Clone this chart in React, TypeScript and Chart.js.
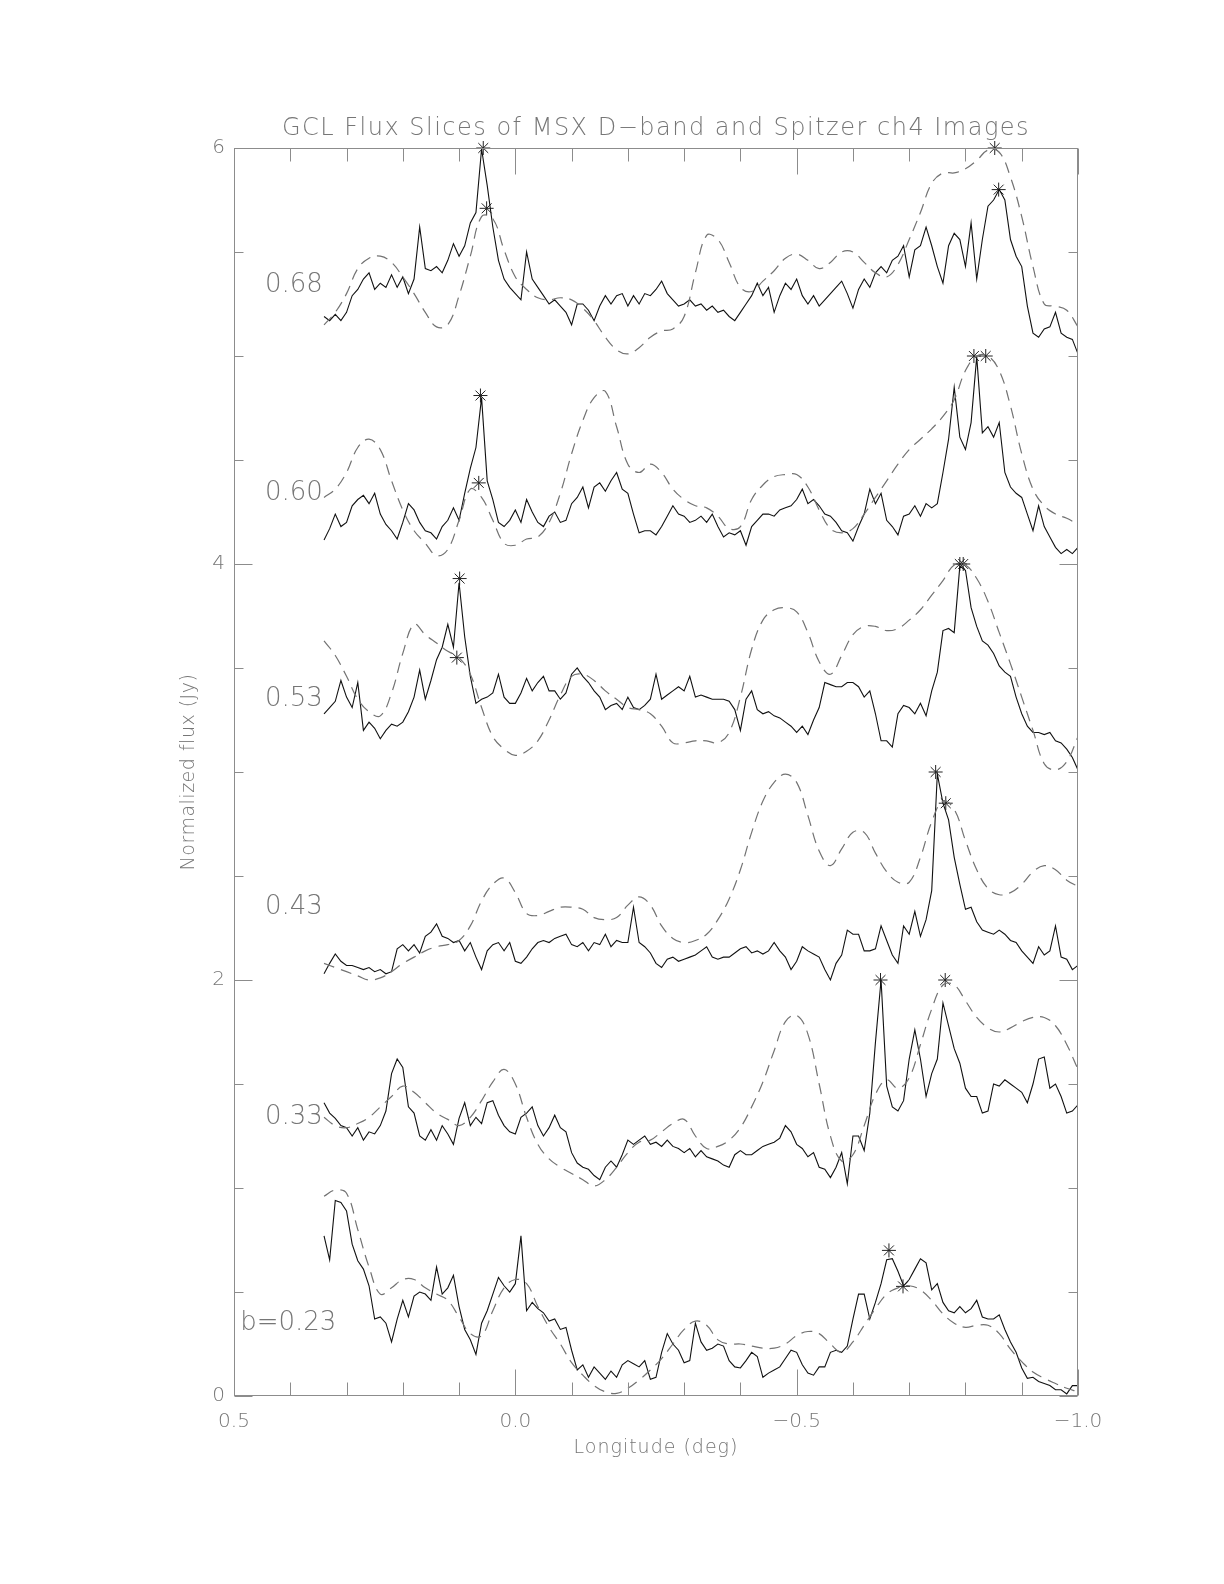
import React, { useEffect, useRef } from "react";
import { Chart, registerables } from "chart.js";

Chart.register(...registerables);

// ---------- text ----------
const TITLE = "GCL Flux Slices of MSX D\u2212band and Spitzer ch4 Images";
const X_TITLE = "Longitude (deg)";
const Y_TITLE = "Normalized flux (Jy)";

// ---------- sampling grid (galactic longitude, deg) ----------
const LON_START = 0.34;
const SOLID_STEP = 0.01; // Spitzer ch4 slices
const DASH_STEP = 0.02; // MSX D-band slices

// ---------- Spitzer ch4 (solid) slices, from l=0.34 to l=-1.00 ----------
const spitzer068 = [
  5.19, 5.17, 5.2, 5.17, 5.21, 5.29, 5.32, 5.37, 5.4, 5.32,
  5.35, 5.33, 5.39, 5.33, 5.38, 5.3, 5.37, 5.62, 5.42, 5.41,
  5.43, 5.4, 5.46, 5.54, 5.48, 5.53, 5.64, 5.69, 5.995, 5.82,
  5.62, 5.46, 5.37, 5.33, 5.3, 5.27, 5.5, 5.37, 5.33, 5.29,
  5.25, 5.27, 5.24, 5.21, 5.15, 5.25, 5.25, 5.22, 5.17, 5.24,
  5.29, 5.25, 5.29, 5.3, 5.24, 5.29, 5.25, 5.3, 5.29, 5.32,
  5.36, 5.3, 5.27, 5.24, 5.25, 5.27, 5.24, 5.25, 5.22, 5.24,
  5.21, 5.22, 5.19, 5.17, 5.21, 5.25, 5.29, 5.35, 5.29, 5.33,
  5.21, 5.29, 5.35, 5.32, 5.37, 5.29, 5.25, 5.29, 5.24, 5.27,
  5.3, 5.33, 5.36, 5.3, 5.23, 5.32, 5.37, 5.33, 5.4, 5.43,
  5.4, 5.46, 5.48, 5.53, 5.38, 5.51, 5.53, 5.62, 5.53, 5.43,
  5.35, 5.53, 5.59, 5.56, 5.43, 5.64, 5.37, 5.56, 5.72, 5.75,
  5.8, 5.75, 5.56, 5.48, 5.43, 5.24, 5.11, 5.09, 5.13, 5.14,
  5.21, 5.11, 5.09, 5.08, 5.01,
];
const spitzer060 = [
  4.115, 4.17, 4.24, 4.18, 4.2, 4.28, 4.31, 4.33, 4.29, 4.34,
  4.24, 4.19, 4.16, 4.12, 4.2, 4.29, 4.26, 4.2, 4.16, 4.15,
  4.12, 4.18, 4.21, 4.27, 4.21, 4.34, 4.46, 4.56, 4.8, 4.4,
  4.31, 4.2, 4.18, 4.21, 4.26, 4.2, 4.31, 4.25, 4.2, 4.18,
  4.23, 4.25, 4.2, 4.21, 4.29, 4.32, 4.37, 4.27, 4.37, 4.39,
  4.35, 4.4, 4.44, 4.36, 4.34, 4.24, 4.15, 4.16, 4.16, 4.14,
  4.18, 4.23, 4.28, 4.24, 4.23, 4.2, 4.21, 4.23, 4.2, 4.24,
  4.18, 4.13, 4.15, 4.14, 4.16, 4.09, 4.18, 4.21, 4.24, 4.24,
  4.23, 4.26, 4.27, 4.28, 4.31, 4.36, 4.29, 4.31, 4.28, 4.24,
  4.23, 4.2, 4.16, 4.15, 4.11, 4.18, 4.24, 4.36, 4.29, 4.34,
  4.21, 4.18, 4.14, 4.23, 4.24, 4.28, 4.23, 4.29, 4.27, 4.29,
  4.44, 4.6, 4.85, 4.61, 4.55, 4.68, 4.997, 4.63, 4.66, 4.61,
  4.68, 4.44, 4.37, 4.34, 4.32, 4.24, 4.16, 4.28, 4.18, 4.13,
  4.08, 4.05, 4.07, 4.05, 4.08,
];
const spitzer053 = [
  3.28, 3.31, 3.34, 3.44, 3.36, 3.31, 3.43, 3.2, 3.24, 3.21,
  3.16, 3.2, 3.23, 3.22, 3.24, 3.29, 3.36, 3.49, 3.35, 3.44,
  3.54, 3.6, 3.71, 3.6, 3.91, 3.65, 3.46, 3.33, 3.35, 3.36,
  3.38, 3.47, 3.36, 3.33, 3.33, 3.38, 3.45, 3.39, 3.43, 3.46,
  3.39, 3.39, 3.35, 3.38, 3.47, 3.5, 3.46, 3.43, 3.39, 3.36,
  3.3, 3.32, 3.33, 3.3, 3.36, 3.31, 3.3, 3.32, 3.35, 3.47,
  3.35, 3.37, 3.39, 3.41, 3.39, 3.46, 3.36, 3.37, 3.36, 3.35,
  3.35, 3.35, 3.34, 3.3, 3.2, 3.35, 3.39, 3.3, 3.28, 3.29,
  3.27, 3.26, 3.24, 3.22, 3.19, 3.22, 3.18, 3.25, 3.31, 3.43,
  3.42, 3.41, 3.41, 3.43, 3.43, 3.41, 3.36, 3.39, 3.28, 3.15,
  3.15, 3.12, 3.28, 3.32, 3.31, 3.28, 3.33, 3.27, 3.39, 3.48,
  3.68, 3.69, 3.67, 3.99, 3.97, 3.79, 3.7, 3.63, 3.61, 3.57,
  3.51, 3.48, 3.46, 3.36, 3.28, 3.22, 3.19, 3.19, 3.18, 3.19,
  3.15, 3.14, 3.11, 3.07, 3.01,
];
const spitzer043 = [
  2.03, 2.08, 2.125, 2.09, 2.07, 2.07, 2.06, 2.05, 2.06, 2.04,
  2.05, 2.03, 2.04, 2.15, 2.17, 2.14, 2.17, 2.13, 2.21, 2.23,
  2.27, 2.21, 2.2, 2.18, 2.19, 2.14, 2.18, 2.11, 2.05, 2.14,
  2.17, 2.18, 2.14, 2.18, 2.09, 2.08, 2.11, 2.15, 2.18, 2.19,
  2.18, 2.2, 2.21, 2.22, 2.17, 2.16, 2.18, 2.14, 2.18, 2.17,
  2.22, 2.16, 2.19, 2.18, 2.18, 2.35, 2.18, 2.16, 2.13, 2.08,
  2.06, 2.1, 2.11, 2.09, 2.1, 2.11, 2.12, 2.14, 2.16, 2.11,
  2.1, 2.11, 2.11, 2.13, 2.15, 2.16, 2.13, 2.14, 2.125, 2.14,
  2.18, 2.14, 2.11, 2.05, 2.09, 2.16, 2.14, 2.125, 2.11, 2.05,
  2.0, 2.08, 2.12, 2.24, 2.22, 2.22, 2.14, 2.14, 2.15, 2.26,
  2.19, 2.12, 2.08, 2.26, 2.22, 2.33, 2.21, 2.29, 2.43, 2.99,
  2.85, 2.77, 2.59, 2.46, 2.34, 2.35, 2.28, 2.24, 2.23, 2.22,
  2.24, 2.22, 2.19, 2.18, 2.14, 2.11, 2.08, 2.16, 2.12, 2.14,
  2.26, 2.11, 2.1, 2.05, 2.07,
];
const spitzer033 = [
  1.41, 1.36, 1.335, 1.3, 1.29, 1.25, 1.29, 1.23, 1.27, 1.26,
  1.3, 1.37, 1.55, 1.62, 1.58, 1.39, 1.36, 1.25, 1.23, 1.28,
  1.23, 1.3, 1.26, 1.21, 1.335, 1.41, 1.3, 1.34, 1.31, 1.41,
  1.42, 1.35, 1.3, 1.27, 1.26, 1.34, 1.36, 1.39, 1.3, 1.25,
  1.29, 1.35, 1.29, 1.27, 1.17, 1.12, 1.1, 1.09, 1.06, 1.04,
  1.1, 1.13, 1.1, 1.16, 1.23, 1.21, 1.23, 1.25, 1.21, 1.22,
  1.2, 1.23, 1.2, 1.19, 1.17, 1.19, 1.15, 1.18, 1.15, 1.14,
  1.13, 1.11, 1.1, 1.16, 1.18, 1.16, 1.16, 1.18, 1.2, 1.21,
  1.22, 1.24, 1.3, 1.27, 1.21, 1.19, 1.15, 1.17, 1.1, 1.09,
  1.05, 1.1, 1.17, 1.02, 1.25, 1.25, 1.18, 1.36, 1.7, 2.0,
  1.49, 1.39, 1.37, 1.42, 1.62, 1.76, 1.62, 1.44, 1.55, 1.62,
  1.89, 1.78, 1.67, 1.6, 1.48, 1.44, 1.44, 1.36, 1.37, 1.5,
  1.49, 1.52, 1.5, 1.48, 1.46, 1.41, 1.5, 1.62, 1.63, 1.48,
  1.5, 1.44, 1.36, 1.37, 1.4,
];
const spitzer023 = [
  0.77, 0.655, 0.94, 0.93, 0.89, 0.73, 0.65, 0.61, 0.53, 0.37,
  0.38, 0.35, 0.26, 0.37, 0.46, 0.38, 0.48, 0.5, 0.49, 0.46,
  0.62, 0.49, 0.52, 0.58, 0.43, 0.32, 0.27, 0.2, 0.35, 0.41,
  0.49, 0.57, 0.53, 0.5, 0.54, 0.77, 0.41, 0.45, 0.42, 0.4,
  0.36, 0.37, 0.32, 0.33, 0.22, 0.125, 0.15, 0.09, 0.14, 0.11,
  0.08, 0.12, 0.09, 0.15, 0.17, 0.155, 0.14, 0.17, 0.08, 0.09,
  0.21, 0.3, 0.25, 0.22, 0.16, 0.17, 0.35, 0.26, 0.22, 0.23,
  0.25, 0.24, 0.17, 0.14, 0.135, 0.17, 0.21, 0.19, 0.09, 0.11,
  0.125, 0.14, 0.18, 0.22, 0.21, 0.15, 0.11, 0.1, 0.14, 0.14,
  0.21, 0.22, 0.21, 0.24, 0.37, 0.49, 0.49, 0.37, 0.45, 0.54,
  0.655, 0.66, 0.6, 0.53, 0.56, 0.61, 0.66, 0.64, 0.51, 0.54,
  0.45, 0.41, 0.4, 0.43, 0.4, 0.42, 0.46, 0.38, 0.37, 0.37,
  0.39, 0.32, 0.26, 0.21, 0.135, 0.085, 0.09, 0.07, 0.06, 0.05,
  0.03, 0.03, 0.01, 0.05, 0.05,
];

// ---------- MSX D-band (dashed) slices, from l=0.34 to l=-1.00 ----------
const msx068 = [
  5.15, 5.21, 5.3, 5.42, 5.47, 5.48, 5.45, 5.38, 5.3, 5.21,
  5.14, 5.15, 5.29, 5.48, 5.67, 5.66, 5.51, 5.38, 5.32, 5.28,
  5.27, 5.28, 5.27, 5.23, 5.17, 5.09, 5.03, 5.01, 5.04, 5.09,
  5.12, 5.13, 5.19, 5.4, 5.58, 5.56, 5.45, 5.33, 5.31, 5.36,
  5.41, 5.47, 5.49, 5.46, 5.42, 5.45, 5.5, 5.5, 5.45, 5.4,
  5.38, 5.44, 5.56, 5.69, 5.83, 5.88, 5.88, 5.9, 5.94, 5.99,
  5.98, 5.86, 5.67, 5.43, 5.25, 5.24, 5.22, 5.14,
];
const msx060 = [
  4.32, 4.36, 4.44, 4.56, 4.6, 4.55, 4.4, 4.26, 4.16, 4.1,
  4.04, 4.07, 4.21, 4.36, 4.32, 4.21, 4.1, 4.09, 4.12, 4.13,
  4.2, 4.34, 4.53, 4.69, 4.8, 4.83, 4.66, 4.48, 4.44, 4.48,
  4.44, 4.36, 4.31, 4.28, 4.27, 4.23, 4.17, 4.18, 4.31, 4.38,
  4.42, 4.43, 4.43, 4.37, 4.26, 4.17, 4.15, 4.17, 4.24, 4.32,
  4.4, 4.48, 4.55, 4.6, 4.65, 4.71, 4.79, 4.93, 5.0, 5.0,
  4.93, 4.76, 4.53, 4.36, 4.28, 4.24, 4.22, 4.19,
];
const msx053 = [
  3.63, 3.56, 3.46, 3.35, 3.29, 3.27, 3.38, 3.57, 3.71, 3.66,
  3.62, 3.58, 3.55, 3.47, 3.31, 3.17, 3.11, 3.08, 3.1, 3.15,
  3.25, 3.37, 3.46, 3.47, 3.44, 3.39, 3.35, 3.31, 3.3, 3.28,
  3.22, 3.14, 3.14, 3.15, 3.15, 3.14, 3.19, 3.36, 3.59, 3.73,
  3.78, 3.79, 3.77, 3.67, 3.53, 3.47, 3.56, 3.66, 3.7, 3.7,
  3.68, 3.69, 3.73, 3.78, 3.85, 3.92, 3.995, 3.995, 3.93, 3.82,
  3.67, 3.52, 3.36, 3.2, 3.04, 3.01, 3.05, 3.17,
];
const msx043 = [
  2.08, 2.06, 2.04, 2.02, 2.0, 2.01, 2.04, 2.08, 2.11, 2.14,
  2.16, 2.17, 2.19, 2.26, 2.38, 2.46, 2.49, 2.42, 2.32, 2.31,
  2.33, 2.35, 2.35, 2.34, 2.3, 2.29, 2.3, 2.36, 2.4, 2.36,
  2.26, 2.2, 2.18, 2.19, 2.22, 2.29, 2.39, 2.53, 2.71, 2.86,
  2.95, 2.99, 2.95, 2.79, 2.62, 2.55, 2.63, 2.71, 2.71, 2.61,
  2.52, 2.47, 2.47, 2.59, 2.76, 2.86, 2.82, 2.67, 2.53, 2.44,
  2.41, 2.42, 2.46, 2.52, 2.55, 2.53, 2.48, 2.45,
];
const msx033 = [
  1.34, 1.3, 1.29, 1.31, 1.34, 1.39, 1.44, 1.49, 1.46, 1.41,
  1.36, 1.33, 1.3, 1.34, 1.42, 1.51, 1.57, 1.5, 1.34, 1.21,
  1.14, 1.1, 1.07, 1.04, 1.01, 1.04, 1.1, 1.17, 1.22, 1.23,
  1.27, 1.31, 1.33, 1.25, 1.19, 1.2, 1.23, 1.29, 1.39, 1.51,
  1.66, 1.8, 1.83, 1.74, 1.5, 1.25, 1.13, 1.16, 1.3, 1.45,
  1.52, 1.48, 1.53, 1.69, 1.86, 1.976, 1.976, 1.9, 1.82, 1.77,
  1.75, 1.77, 1.8, 1.82, 1.82, 1.78, 1.69, 1.57,
];
const msx023 = [
  0.96, 0.99, 0.975, 0.8, 0.62, 0.49, 0.52, 0.56, 0.56, 0.52,
  0.49, 0.46, 0.38, 0.3, 0.29, 0.41, 0.52, 0.56, 0.54, 0.43,
  0.33, 0.25, 0.16, 0.1, 0.05, 0.02, 0.013, 0.037, 0.077, 0.125,
  0.18, 0.25, 0.32, 0.36, 0.34, 0.27, 0.25, 0.25, 0.24, 0.23,
  0.23, 0.25, 0.29, 0.31, 0.3, 0.25, 0.21, 0.26, 0.34, 0.42,
  0.49, 0.52, 0.53, 0.51, 0.46, 0.395, 0.35, 0.33, 0.34, 0.34,
  0.3, 0.225, 0.165, 0.115, 0.085, 0.06, 0.037, 0.02,
];

// ---------- peak markers (asterisks) ----------
const starLon = [
  0.057, 0.051, -0.852, -0.859,
  0.062, 0.065, -0.815, -0.836,
  0.099, 0.104, -0.79, -0.796,
  -0.747, -0.765,
  -0.649, -0.764,
  -0.664, -0.689,
];
const starFlux = [
  6.0, 5.71, 6.0, 5.8,
  4.81, 4.39, 5.0, 5.0,
  3.93, 3.55, 4.0, 4.0,
  3.0, 2.85,
  2.0, 2.0,
  0.7, 0.527,
];

// ---------- slice labels ----------
const bandLabels = ["0.68", "0.60", "0.53", "0.43", "0.33", "b=0.23"];
const bandLabelLon = [0.445, 0.445, 0.445, 0.445, 0.445, 0.489];
const bandLabelFlux = [5.34, 4.34, 3.35, 2.35, 1.34, 0.35];

// ---------- axes ----------
const X_MIN = -1.0;
const X_MAX = 0.5;
const X_STEP = 0.1;
const X_MAJOR = 0.5;
const Y_MIN = 0;
const Y_MAX = 6;
const Y_STEP = 0.5;
const Y_MAJOR = 2;

const TEXT_COLOR = "#767676";
const AXIS_COLOR = "#8c8c8c";
const FONT_FAMILY = "'DejaVu Sans', 'Liberation Sans', sans-serif";
const FONT_WEIGHT = 200;

const isMultiple = (v: number, m: number) => Math.abs(v / m - Math.round(v / m)) < 1e-6;

const toPoints = (vals: number[], step: number) =>
  vals.map((v, i) => ({ x: +(LON_START - i * step).toFixed(4), y: v }));

const font = (size: number) => `${FONT_WEIGHT} ${size}px ${FONT_FAMILY}`;

const framePlugin = {
  id: "idlFrame",
  afterDraw(chart: any) {
    const { ctx, chartArea: a, scales } = chart;
    const xs = scales.x;
    const ys = scales.y;
    const L = Math.round(a.left) + 0.5;
    const R = Math.round(a.right) - 0.5;
    const T = Math.round(a.top) + 0.5;
    const B = Math.round(a.bottom) - 0.5;
    ctx.save();
    ctx.strokeStyle = AXIS_COLOR;
    ctx.lineWidth = 1;
    ctx.setLineDash([]);
    ctx.strokeRect(L, T, R - L, B - T);
    ctx.beginPath();
    for (const t of xs.ticks) {
      const px = Math.round(xs.getPixelForValue(t.value)) + 0.5;
      const len = isMultiple(t.value, X_MAJOR) ? 26 : 13;
      ctx.moveTo(px, B);
      ctx.lineTo(px, B - len);
      ctx.moveTo(px, T);
      ctx.lineTo(px, T + len);
    }
    for (const t of ys.ticks) {
      const py = Math.round(ys.getPixelForValue(t.value)) + 0.5;
      const len = isMultiple(t.value, Y_MAJOR) ? 18 : 9;
      ctx.moveTo(L, py);
      ctx.lineTo(L + len, py);
      ctx.moveTo(R, py);
      ctx.lineTo(R - len, py);
    }
    ctx.stroke();

    ctx.fillStyle = TEXT_COLOR;
    ctx.textBaseline = "middle";
    // title
    ctx.font = font(24);
    ctx.textAlign = "center";
    (ctx as any).letterSpacing = "1.5px";
    ctx.fillText(TITLE, (a.left + a.right) / 2, a.top - 19);
    // x title
    ctx.font = font(19);
    (ctx as any).letterSpacing = "1px";
    ctx.fillText(X_TITLE, (a.left + a.right) / 2, a.bottom + 52);
    // y title
    ctx.save();
    (ctx as any).letterSpacing = "0.5px";
    ctx.translate(a.left - 45, (a.top + a.bottom) / 2);
    ctx.rotate(-Math.PI / 2);
    ctx.fillText(Y_TITLE, 0, 0);
    ctx.restore();
    // slice labels
    ctx.font = font(26);
    (ctx as any).letterSpacing = "0px";
    ctx.textAlign = "left";
    bandLabels.forEach((lab, i) => {
      ctx.fillText(lab, xs.getPixelForValue(bandLabelLon[i]), ys.getPixelForValue(bandLabelFlux[i]));
    });
    ctx.restore();
  },
};

export default function App() {
  const ref = useRef<HTMLCanvasElement | null>(null);

  useEffect(() => {
    if (!ref.current) return;
    const solidSets = [spitzer068, spitzer060, spitzer053, spitzer043, spitzer033, spitzer023];
    const dashSets = [msx068, msx060, msx053, msx043, msx033, msx023];
    const datasets: any[] = [];
    dashSets.forEach((vals, i) => {
      datasets.push({
        label: `MSX ${bandLabels[i]}`,
        data: toPoints(vals, DASH_STEP),
        borderColor: "#727272",
        borderWidth: 1.2,
        borderDash: [11, 7],
        pointRadius: 0,
        tension: 0.4,
        fill: false,
      });
    });
    solidSets.forEach((vals, i) => {
      datasets.push({
        label: `Spitzer ${bandLabels[i]}`,
        data: toPoints(vals, SOLID_STEP),
        borderColor: "#111111",
        borderWidth: 1.1,
        pointRadius: 0,
        tension: 0,
        fill: false,
      });
    });
    datasets.push({
      label: "peaks",
      data: starLon.map((x, i) => ({ x, y: starFlux[i] })),
      showLine: false,
      pointStyle: "star",
      pointRadius: 7,
      borderColor: "#222222",
      backgroundColor: "#222222",
      borderWidth: 1,
      clip: false,
    });

    const chart = new Chart(ref.current, {
      type: "line",
      data: { datasets },
      plugins: [framePlugin],
      options: {
        responsive: false,
        animation: false,
        devicePixelRatio: 1,
        layout: { padding: { top: 148, right: 146, bottom: 0, left: 0 } },
        plugins: { legend: { display: false }, tooltip: { enabled: false }, title: { display: false } },
        scales: {
          x: {
            type: "linear",
            reverse: true,
            min: X_MIN,
            max: X_MAX,
            grid: { display: false, drawTicks: false },
            border: { display: false },
            afterFit: (s: any) => {
              s.height = 188;
            },
            ticks: {
              stepSize: X_STEP,
              autoSkip: false,
              maxRotation: 0,
              padding: 14,
              color: TEXT_COLOR,
              font: { family: FONT_FAMILY, size: 20, weight: FONT_WEIGHT },
              callback: (v: any) => {
                const n = Number(v);
                if (!isMultiple(n, X_MAJOR)) return "";
                const r = Math.round(n * 10) / 10;
                return r < 0 ? "\u2212" + Math.abs(r).toFixed(1) : r.toFixed(1);
              },
            },
          },
          y: {
            type: "linear",
            min: Y_MIN,
            max: Y_MAX,
            grid: { display: false, drawTicks: false },
            border: { display: false },
            afterFit: (s: any) => {
              s.width = 234;
            },
            ticks: {
              stepSize: Y_STEP,
              autoSkip: false,
              padding: 9,
              color: TEXT_COLOR,
              font: { family: FONT_FAMILY, size: 20, weight: FONT_WEIGHT },
              callback: (v: any) => {
                const n = Number(v);
                return isMultiple(n, Y_MAJOR) ? String(Math.round(n)) : "";
              },
            },
          },
        },
      },
    } as any);
    return () => chart.destroy();
  }, []);

  return (
    <canvas
      ref={ref}
      width={1224}
      height={1584}
      style={{ position: "absolute", left: 0, top: 0, width: 1224, height: 1584, background: "#ffffff" }}
    />
  );
}
